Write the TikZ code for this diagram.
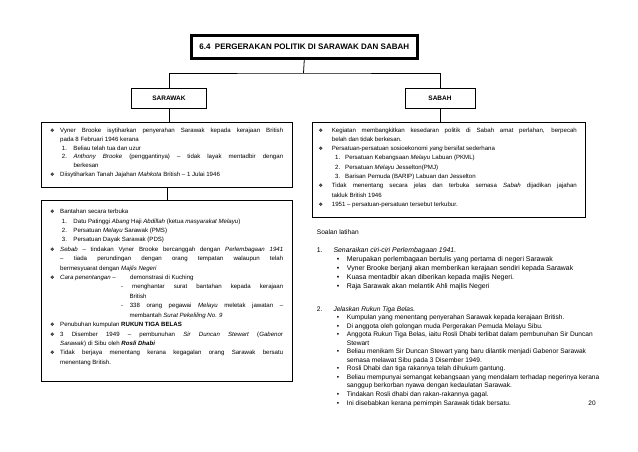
\documentclass[tikz,border=0pt]{standalone}
\usepackage{fontspec}
\setmainfont{Liberation Sans}
\newfontfamily\symfont{DejaVu Sans}
\usetikzlibrary{calc}
\newcommand{\dia}{{\symfont\fontsize{5}{5}\selectfont ❖}}
% plain row: indent, marker width, marker, text
\newcommand{\tl}[4]{\hbox{\kern#1\relax\makebox[#2][l]{#3}#4}}
% justified row: indent, marker width, marker, text width, text
\newcommand{\tlj}[5]{\hbox{\kern#1\relax\makebox[#2][l]{#3}\makebox[#4][s]{#5}}}
\tikzset{
  box/.style={draw, line width=0.8pt, inner sep=0pt, anchor=north west},
  txt/.style={inner sep=0pt, anchor=base west, align=left},
  lbl/.style={font=\bfseries\fontsize{6.5}{7}\selectfont},
  con/.style={line width=0.8pt}
}
\begin{document}
\begin{tikzpicture}[x=1pt,y=-1pt]
\useasboundingbox[fill=white] (0,0) rectangle (638,452);
% title
\node[draw, line width=1.6pt, minimum width=227pt, minimum height=24pt, inner sep=0pt, anchor=north west] (title) at (190,34) {};
\draw[line width=0.6pt] ($(title.north west)+(2.6,2.6)$) rectangle ($(title.south east)+(-2.6,-2.6)$);
\node[font=\bfseries\fontsize{8}{9}\selectfont] (titletext) at (title.center) {6.4~~PERGERAKAN POLITIK DI SARAWAK DAN SABAH};
% category boxes
\node[box, minimum width=75pt, minimum height=20pt, anchor=center] (sarawak) at (169,98) {};
\node[lbl] (sarawaktext) at (sarawak.center) {SARAWAK};
\node[box, minimum width=70pt, minimum height=20pt, anchor=center] (sabah) at (440,98) {};
\node[lbl] (sabahtext) at (sabah.center) {SABAH};
\coordinate (split) at (303.5,73);
\draw[con] (title.south) -- (split);
\draw[con] (sarawak.north) |- (split) -| (sabah.north);
% content boxes
\node[box, minimum width=251pt, minimum height=65pt] (ltop) at (41,122) {};
\node[box, minimum width=251pt, minimum height=181pt] (lbot) at (41,200) {};
\node[box, minimum width=273pt, minimum height=95pt] (rtop) at (312,122) {};
\draw[con] (sarawak.south) -- (sarawak.south |- ltop.north);
\draw[con] (sabah.south) -- (sabah.south |- rtop.north);
\draw[con] (ltop.south) -- (lbot.north);
% left top text
\node[txt] (ltoptext) at (50,132.7) {\parbox[t]{240pt}{\fontsize{6.1}{8.7}\selectfont\lineskiplimit=-20pt\baselineskip=8.7pt
\tlj{0pt}{10pt}{\dia}{223pt}{Vyner Brooke isytiharkan penyerahan Sarawak kepada kerajaan British}
\tl{10pt}{0pt}{}{pada 8 Februari 1946 kerana}
\tl{11.7pt}{11.6pt}{1.}{Beliau telah tua dan uzur}
\tlj{11.7pt}{11.6pt}{2.}{209.7pt}{\textit{Anthony Brooke} (penggantinya) – tidak layak mentadbir dengan}
\tl{23.3pt}{0pt}{}{berkesan}
\tl{0pt}{10pt}{\dia}{Diisytiharkan Tanah Jajahan \textit{Mahkota} British – 1 Julai 1946}}};
% left bottom text
\node[txt] (lbottext) at (50,213.7) {\parbox[t]{240pt}{\fontsize{6.1}{9.41}\selectfont\lineskiplimit=-20pt\baselineskip=9.41pt
\tl{0pt}{10pt}{\dia}{Bantahan secara terbuka}
\tl{11.7pt}{11.6pt}{1.}{Datu Patinggi \textit{Abang} Haji \textit{Abdillah} (ketua \textit{masyarakat Melayu})}
\tl{11.7pt}{11.6pt}{2.}{Persatuan \textit{Melayu} Sarawak (PMS)}
\tl{11.7pt}{11.6pt}{3.}{Persatuan Dayak Sarawak (PDS)}
\tlj{0pt}{10pt}{\dia}{223pt}{\textit{Sebab} – tindakan Vyner Brooke bercanggah dengan \textit{Perlembagaan 1941}}
\tlj{10pt}{0pt}{}{223pt}{– tiada perundingan dengan orang tempatan walaupun telah}
\tl{10pt}{0pt}{}{bermesyuarat dengan \textit{Majlis Negeri}}
\tl{0pt}{10pt}{\dia}{\makebox[70pt][l]{\textit{Cara penentangan} –}demonstrasi di Kuching}
\tlj{71pt}{0pt}{}{162pt}{- menghantar surat bantahan kepada kerajaan}
\tl{79.3pt}{0pt}{}{British}
\tlj{71pt}{0pt}{}{162pt}{- 338 orang pegawai \textit{Melayu} meletak jawatan –}
\tl{79.3pt}{0pt}{}{membantah \textit{Surat Pekeliling No. 9}}
\tl{0pt}{10pt}{\dia}{Penubuhan kumpulan \textbf{RUKUN TIGA BELAS}}
\tlj{0pt}{10pt}{\dia}{223pt}{3 Disember 1949 – pembunuhan \textit{Sir Duncan Stewart} (\textit{Gabenor}}
\tl{10pt}{0pt}{}{\textit{Sarawak}) di Sibu oleh \textbf{\textit{Rosli Dhabi}}}
\tlj{0pt}{10pt}{\dia}{223pt}{Tidak berjaya menentang kerana kegagalan orang Sarawak bersatu}
\tl{10pt}{0pt}{}{menentang British.}}};
% right top text
\node[txt] (rtoptext) at (318.3,132) {\parbox[t]{262pt}{\fontsize{6.1}{9.3}\selectfont\lineskiplimit=-20pt\baselineskip=9.3pt
\tlj{0pt}{13.4pt}{\dia}{245pt}{Kegiatan membangkitkan kesedaran politik di Sabah amat perlahan, berpecah}
\tl{13.4pt}{0pt}{}{belah dan tidak berkesan.}
\tl{0pt}{13.4pt}{\dia}{Persatuan-persatuan sosioekonomi \textit{yang} bersifat sederhana}
\tl{16.7pt}{10pt}{1.}{Persatuan Kebangsaan \textit{Melayu} Labuan (PKML)}
\tl{16.7pt}{10pt}{2.}{Persatuan \textit{Melayu} Jesselton(PMJ)}
\tl{16.7pt}{10pt}{3.}{Barisan Pemuda (BARIP) Labuan dan Jesselton}
\tlj{0pt}{13.4pt}{\dia}{245pt}{Tidak menentang secara jelas dan terbuka semasa \textit{Sabah} dijadikan jajahan}
\tl{13.4pt}{0pt}{}{takluk British 1946}
\tl{0pt}{13.4pt}{\dia}{1951 – persatuan-persatuan tersebut terkubur.}}};
% questions
\node[txt, font=\fontsize{6.6}{8}\selectfont] (soalan) at (316.7,234) {Soalan latihan};
\node[txt] (q1) at (316.7,252) {\parbox[t]{262pt}{\fontsize{6.9}{9.2}\selectfont\lineskiplimit=-20pt\baselineskip=9.2pt
\tl{0pt}{16.6pt}{1.}{\textit{Senaraikan ciri-ciri Perlembagaan 1941.}}
\tl{20pt}{10pt}{•}{Merupakan perlembagaan bertulis yang pertama di negeri Sarawak}
\tl{20pt}{10pt}{•}{Vyner Brooke berjanji akan memberikan kerajaan sendiri kepada Sarawak}
\tl{20pt}{10pt}{•}{Kuasa mentadbir akan diberikan kepada majlis Negeri.}
\tl{20pt}{10pt}{•}{Raja Sarawak akan melantik Ahli majlis Negeri}}};
\node[txt] (q2) at (316.7,311) {\parbox[t]{262pt}{\fontsize{6.6}{8.55}\selectfont\lineskiplimit=-20pt\baselineskip=8.55pt
\tl{0pt}{16.6pt}{2.}{\textit{Jelaskan Rukun Tiga Belas.}}
\tl{20pt}{10pt}{•}{Kumpulan yang menentang penyerahan Sarawak kepada kerajaan British.}
\tl{20pt}{10pt}{•}{Di anggota oleh golongan muda Pergerakan Pemuda Melayu Sibu.}
\tl{20pt}{10pt}{•}{Anggota Rukun Tiga Belas, iaitu Rosli Dhabi terlibat dalam pembunuhan Sir Duncan}
\tl{30pt}{0pt}{}{Stewart}
\tl{20pt}{10pt}{•}{Beliau menikam Sir Duncan Stewart yang baru dilantik menjadi Gabenor Sarawak}
\tl{30pt}{0pt}{}{semasa melawat Sibu pada 3 Disember 1949.}
\tl{20pt}{10pt}{•}{Rosli Dhabi dan tiga rakannya telah dihukum gantung.}
\tl{20pt}{10pt}{•}{Beliau mempunyai semangat kebangsaan yang mendalam terhadap negerinya kerana}
\tl{30pt}{0pt}{}{sanggup berkorban nyawa dengan kedaulatan Sarawak.}
\tl{20pt}{10pt}{•}{Tindakan Rosli dhabi dan rakan-rakannya gagal.}
\tl{20pt}{10pt}{•}{Ini disebabkan kerana pemimpin Sarawak tidak bersatu.}}};
\node[inner sep=0pt, anchor=base, font=\fontsize{6.5}{7}\selectfont] (pagenum) at (592,405) {20};
\end{tikzpicture}
\end{document}
